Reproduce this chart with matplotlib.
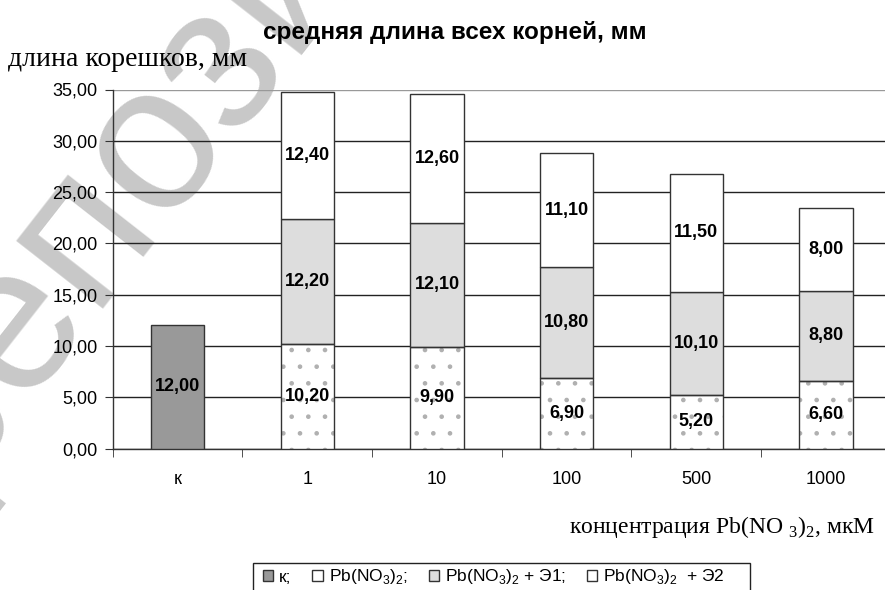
import matplotlib.pyplot as plt
import matplotlib.patches as mpatches
import numpy as np

plt.rcParams['font.family'] = ['Liberation Sans', 'DejaVu Sans']
plt.rcParams['hatch.linewidth'] = 0.9

# данные: средняя длина корней, мм
categories = ['к', '1', '10', '100', '500', '1000']
control = [12.00, 0, 0, 0, 0, 0]
pb = [0, 10.20, 9.90, 6.90, 5.20, 6.60]
pb_e1 = [0, 12.20, 12.10, 10.80, 10.10, 8.80]
pb_e2 = [0, 12.40, 12.60, 11.10, 11.50, 8.00]

def fmt(v):
    return f'{v:.2f}'.replace('.', ',')

fig = plt.figure(figsize=(8.85, 5.9), dpi=100)
ax = fig.add_axes([112.8 / 885, 1 - 448.5 / 590, 778 / 885, 359 / 590])

# водяной знак (под осями)
fig.text(-52 / 885, 1 - 492 / 590, 'репозиторий', fontsize=150, color='#c8c8c8',
         rotation=52, rotation_mode='anchor', ha='left', va='baseline', zorder=-1)
ax.patch.set_alpha(0)

x = np.arange(len(categories))
w = 0.41
edge = '#333333'

pb_arr = np.array(pb)
e1_arr = np.array(pb_e1)
e2_arr = np.array(pb_e2)

# контроль
ax.bar(x[:1], control[:1], w, color='#999999', edgecolor=edge, linewidth=1, zorder=3)
# Pb(NO3)2 - точечная штриховка
ax.bar(x[1:], pb_arr[1:], w, color='white', edgecolor='#b0b0b0', hatch='.', linewidth=0, zorder=3)
ax.bar(x[1:], pb_arr[1:], w, fill=False, edgecolor=edge, linewidth=1, zorder=4)
ax.bar(x[1:], e1_arr[1:], w, bottom=pb_arr[1:], color='#dddddd', edgecolor=edge, linewidth=1, zorder=3)
ax.bar(x[1:], e2_arr[1:], w, bottom=pb_arr[1:] + e1_arr[1:], color='white', edgecolor=edge, linewidth=1, zorder=3)

lab = dict(ha='center', va='center', fontsize=13, fontweight='bold', zorder=5)
ax.text(x[0], control[0] / 2, fmt(control[0]), **lab)
for i in range(1, len(categories)):
    ax.text(x[i], pb[i] / 2, fmt(pb[i]), **lab)
    ax.text(x[i], pb[i] + pb_e1[i] / 2, fmt(pb_e1[i]), **lab)
    ax.text(x[i], pb[i] + pb_e1[i] + pb_e2[i] / 2, fmt(pb_e2[i]), **lab)

ax.set_xlim(-0.5, len(categories) - 0.5)
ax.set_ylim(0, 35)
yt = np.arange(0, 36, 5)
ax.set_yticks(yt)
ax.set_yticklabels([fmt(v) for v in yt], fontsize=13)
ax.set_xticks(x)
ax.set_xticklabels(categories, fontsize=13)
ax.set_xticks(np.arange(-0.5, len(categories), 1), minor=True)
ax.tick_params(axis='x', which='major', length=0, pad=16)
ax.tick_params(axis='x', which='minor', length=6, direction='out', color='#333333')
ax.tick_params(axis='y', length=6, direction='out', color='#333333', pad=5)

ax.yaxis.grid(True, color='#222222', linewidth=1)
ax.get_ygridlines()[-1].set_color('#999999')
ax.set_axisbelow(True)
for s in ['top', 'right']:
    ax.spines[s].set_visible(False)
for s in ['left', 'bottom']:
    ax.spines[s].set_color('#333333')
    ax.spines[s].set_linewidth(1)
    ax.spines[s].set_zorder(2)

fig.text(455 / 885, 1 - 32 / 590, 'средняя длина всех корней, мм', fontsize=17.5,
         fontweight='bold', ha='center', va='center')
fig.text(8 / 885, 1 - 60 / 590, 'длина корешков, мм', family='Liberation Serif',
         fontsize=20, ha='left', va='center')
fig.text(875 / 885, 1 - 533 / 590,
         r'концентрация Pb(NO $_\mathregular{3}$)$_\mathregular{2}$, мкМ',
         family='Liberation Serif', fontsize=17, ha='right', va='baseline')

# легенда
fig.patches.append(mpatches.Rectangle((253 / 885, 1 - 600 / 590), 497 / 885, 37 / 590,
                                      transform=fig.transFigure, facecolor='white',
                                      edgecolor='#222222', linewidth=1))
handles = [mpatches.Patch(facecolor='#999999', edgecolor='#333333'),
           mpatches.Patch(facecolor='white', edgecolor='#333333'),
           mpatches.Patch(facecolor='#dddddd', edgecolor='#333333'),
           mpatches.Patch(facecolor='white', edgecolor='#333333')]
labels = ['к;', r'Pb(NO$_\mathregular{3}$)$_\mathregular{2}$;',
          r'Pb(NO$_\mathregular{3}$)$_\mathregular{2}$ + Э1;',
          r'Pb(NO$_\mathregular{3}$)$_\mathregular{2}$  + Э2']
fig.legend(handles, labels, ncol=4, loc='center left', frameon=False,
           bbox_to_anchor=(254 / 885, 1 - 577 / 590), fontsize=12.5,
           handlelength=0.6, handleheight=0.6, handletextpad=0.35,
           columnspacing=1.2, borderpad=0)

fig.savefig('out.png', dpi=100)
